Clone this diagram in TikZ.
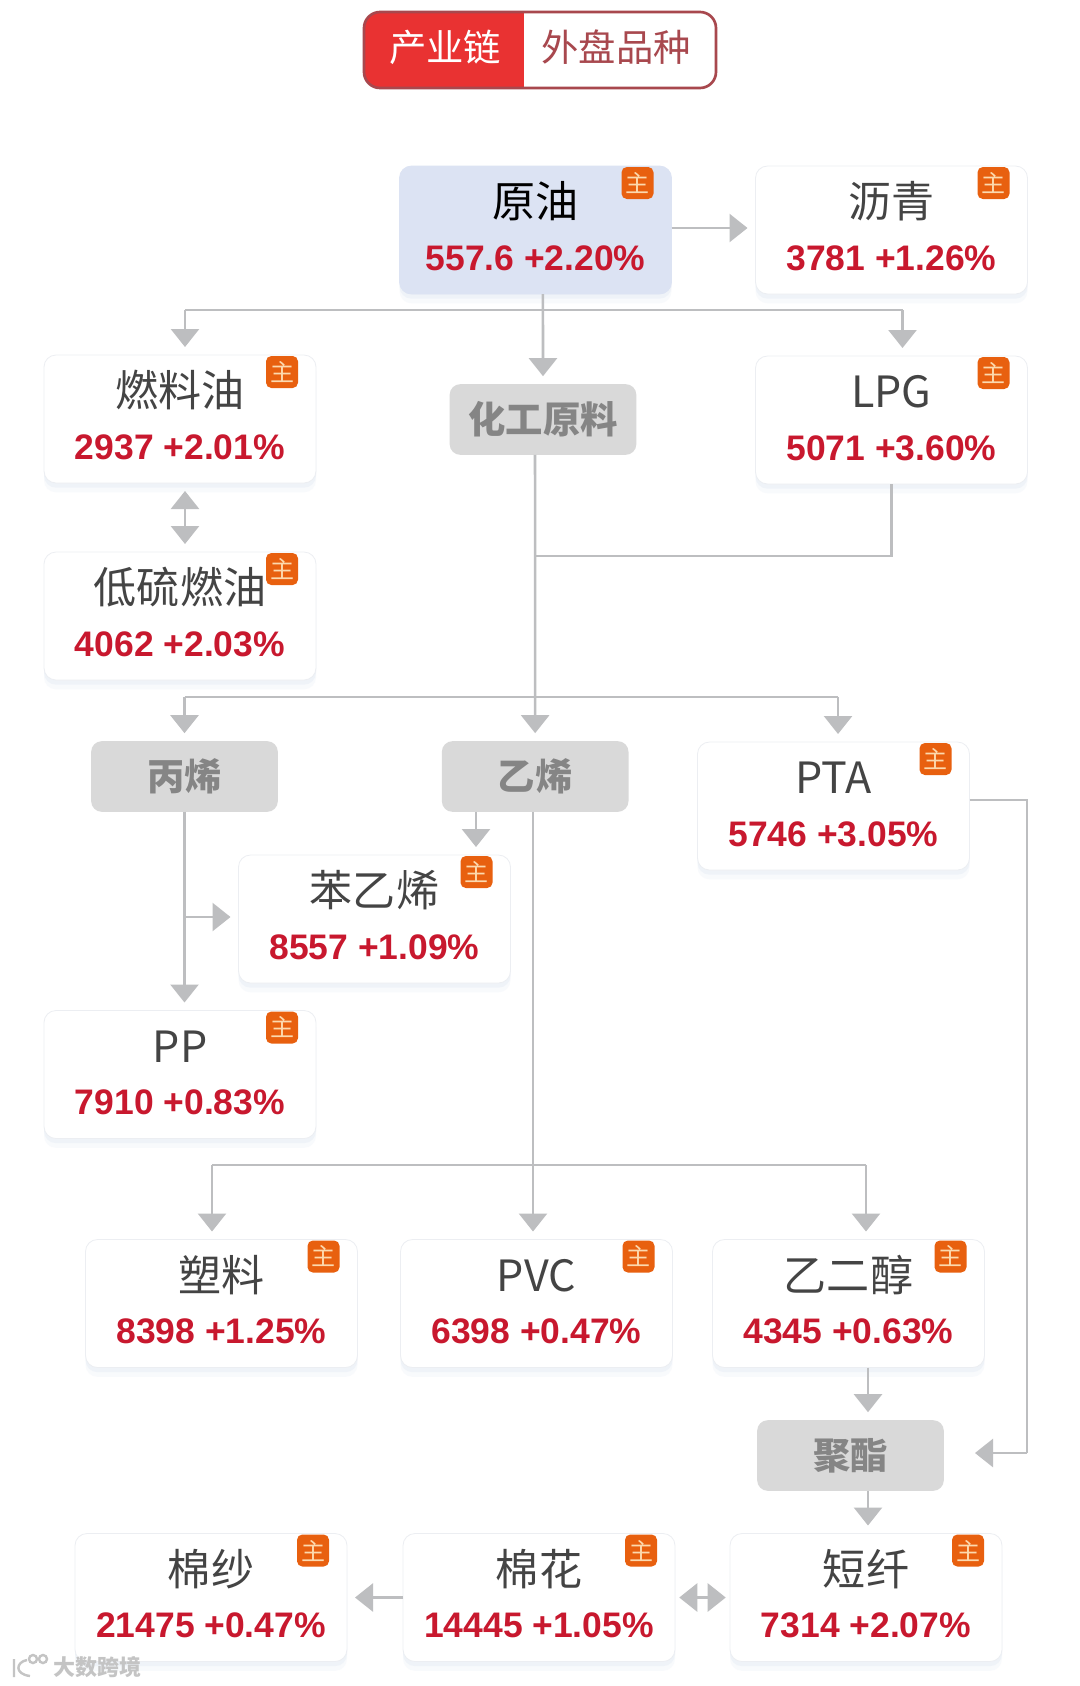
\documentclass[tikz,border=0pt]{standalone}
\usepackage{fontspec}
\usepackage{xcolor}
\usetikzlibrary{arrows.meta,positioning,shadows}
\newfontfamily\cjkfont{Noto Sans CJK SC}
\newfontfamily\figfont{Liberation Sans}
\definecolor{linkgray}{HTML}{BDBEC0}
\definecolor{titlegray}{HTML}{444444}
\definecolor{valuered}{HTML}{C8182E}
\definecolor{tabred}{HTML}{E93232}
\definecolor{tabrose}{HTML}{A8484E}
\definecolor{tintblue}{HTML}{DCE3F3}
\definecolor{boxgray}{HTML}{D9D9D9}
\definecolor{boxtext}{HTML}{858585}
\definecolor{tagorange}{HTML}{E8600F}
\definecolor{tagtext}{HTML}{FCD9AE}
\definecolor{cardline}{HTML}{ECEEF2}
\definecolor{shadowblue}{HTML}{DDE4F2}
\definecolor{markgray}{HTML}{C4C4C4}
\newcommand{\cardtext}[2]{{\cjkfont\fontsize{32.3}{36}\selectfont\rule[-5pt]{0pt}{34pt}#1}\\[14pt]{\figfont\bfseries\fontsize{26.6}{30}\selectfont\color{valuered}#2\rule[-8pt]{0pt}{27.5pt}}}
\tikzset{
  card/.style={draw=cardline,line width=0.6pt,rounded corners=9pt,fill=white,outer sep=0pt,inner sep=0pt,
    minimum width=204pt,minimum height=96pt,align=center,text=titlegray,
    drop shadow={shadow xshift=0pt,shadow yshift=-7pt,fill=shadowblue,opacity=0.18},
    drop shadow={shadow xshift=0pt,shadow yshift=-3.5pt,fill=shadowblue,opacity=0.3}},
  grouphead/.style={rounded corners=8pt,fill=boxgray,outer sep=0pt,minimum width=140pt,minimum height=53pt,
    font=\cjkfont\bfseries\fontsize{28}{32}\selectfont,text=boxtext},
  tagnode/.style={rounded corners=4pt,fill=tagorange,minimum size=24pt,inner sep=0pt,outer sep=0pt,
    font=\cjkfont\fontsize{18}{20}\selectfont,text=tagtext,anchor=north east},
  tabtext/.style={font=\cjkfont\fontsize{28}{32}\selectfont,inner sep=0pt},
  linkline/.style={draw=linkgray,line width=1.9pt},
  linkarrow/.style={linkline,-{Triangle[length=13.5pt,width=21pt]},shorten >=6pt},
  linkboth/.style={linkline,{Triangle[length=13.5pt,width=21pt]}-{Triangle[length=13.5pt,width=21pt]},shorten >=6pt,shorten <=6pt},
}
\begin{document}
\begin{tikzpicture}[x=0.75pt,y=-0.75pt]
    \path[fill=white,use as bounding box] (0,0) rectangle (1080,1686);
    % tabs
    \node[draw=tabrose,line width=2pt,rounded corners=12pt,minimum width=264pt,minimum height=57pt,outer sep=0pt,
      path picture={\fill[tabred,sharp corners] (path picture bounding box.north west) rectangle ([xshift=120pt]path picture bounding box.south west);}] (tabs) at (540,50) {};
    \node[tabtext,text=white] (tabchain) at (445,47) {产业链};
    \node[tabtext,text=tabrose] (tabforeign) at (616,47) {外盘品种};
    % cards
    \node[card,fill=tintblue,draw=tintblue,text=black] (crude) at (535.5,230) {\cardtext{原油}{557.6 +2.20\%}};
    \node[card,right=63pt of crude] (asphalt) {\cardtext{沥青}{3781 +1.26\%}};
    \node[card,below=46.5pt of asphalt] (lpg) {\cardtext{LPG}{5071 +3.60\%}};
    \node[card] (fuel) at (180,419) {\cardtext{燃料油}{2937 +2.01\%}};
    \node[card,below=51.75pt of fuel] (lowsulfur) {\cardtext{低硫燃油}{4062 +2.03\%}};
    \node[grouphead] (chem) at (543,419.5) {化工原料};
    \node[grouphead] (propylene) at (184.5,776.5) {丙烯};
    \node[grouphead,right=123pt of propylene] (ethylene) {乙烯};
    \node[card] (pta) at (833.5,806) {\cardtext{PTA}{5746 +3.05\%}};
    \node[card] (styrene) at (374.5,919) {\cardtext{苯乙烯}{8557 +1.09\%}};
    \node[card] (pp) at (180,1074.5) {\cardtext{PP}{7910 +0.83\%}};
    \node[card] (plastic) at (221.5,1303.5) {\cardtext{塑料}{8398 +1.25\%}};
    \node[card,right=32.25pt of plastic] (pvc) {\cardtext{PVC}{6398 +0.47\%}};
    \node[card,right=30pt of pvc] (glycol) {\cardtext{乙二醇}{4345 +0.63\%}};
    \node[grouphead] (polyester) at (850.5,1455.5) {聚酯};
    \node[card] (yarn) at (211,1597.5) {\cardtext{棉纱}{21475 +0.47\%}};
    \node[card,right=42pt of yarn] (cotton) {\cardtext{棉花}{14445 +1.05\%}};
    \node[card,right=41.25pt of cotton] (staple) {\cardtext{短纤}{7314 +2.07\%}};
    \foreach \n in {crude,asphalt,lpg,fuel,lowsulfur,pta,styrene,pp,plastic,pvc,glycol,yarn,cotton,staple}
      \node[tagnode] (\n tag) at ([shift={(-18,1)}]\n.north east) {主};
    % bus points
    \coordinate (busa) at (543,310);
    \coordinate (busb) at (535,697);
    \coordinate (busc) at (533,1165);
    \coordinate (lpgjoin) at (535,556);
    % links
    \draw[linkarrow] ([yshift=1.5pt]crude.east) -- ([yshift=1.5pt]asphalt.west);
    \draw[linkarrow] ([xshift=5.6pt]crude.south) -- (chem.north);
    \draw[linkline] ([xshift=3.75pt]fuel.north |- busa) -- ([xshift=8.25pt]lpg.north |- busa);
    \draw[linkarrow] ([xshift=3.75pt]fuel.north |- busa) -- ([xshift=3.75pt]fuel.north);
    \draw[linkarrow] ([xshift=8.25pt]lpg.north |- busa) -- ([xshift=8.25pt]lpg.north);
    \draw[linkboth] ([xshift=3.75pt]fuel.south) -- ([xshift=3.75pt]lowsulfur.north);
    \draw[linkline] (lpg.south) |- (lpgjoin);
    \draw[linkarrow] ([xshift=-6pt]chem.south) -- (ethylene.north);
    \draw[linkline] (propylene.north |- busb) -- ([xshift=3.4pt]pta.north |- busb);
    \draw[linkarrow] (propylene.north |- busb) -- (propylene.north);
    \draw[linkarrow] ([xshift=3.4pt]pta.north |- busb) -- ([xshift=3.4pt]pta.north);
    \draw[linkarrow] (propylene.south) -- (propylene.south |- pp.north);
    \coordinate (branch) at (184.5,917);
    \draw[linkarrow] (branch) -- (styrene.west |- branch);
    \coordinate (styin) at (476,830);
    \draw[linkarrow] (styin |- ethylene.south) -- (styin |- styrene.north);
    \draw[linkarrow] (busc |- ethylene.south) -- (busc |- pvc.north);
    \coordinate (busleft) at (212,1165);
    \coordinate (busright) at (866,1165);
    \draw[linkline] (busleft) -- (busright);
    \draw[linkarrow] (busleft) -- (busleft |- plastic.north);
    \draw[linkarrow] (busright) -- (busright |- glycol.north);
    \coordinate (polydown) at (868,1400);
    \draw[linkarrow] (polydown |- glycol.south) -- (polydown |- polyester.north);
    \draw[linkarrow] (polydown |- polyester.south) -- (polydown |- staple.north);
    \coordinate (ptaright) at (1027,1453);
    \coordinate (polyin) at (975,1453);
    \draw[linkline] ([yshift=4.5pt]pta.east) -| (ptaright);
    \draw[linkline,-{Triangle[length=13.5pt,width=21pt]}] (ptaright) -- (polyin);
    \draw[linkarrow] (cotton.west) -- (yarn.east);
    \draw[linkboth,shorten >=3.2pt,shorten <=3.2pt] (cotton.east) -- (staple.west);
    % watermark
    \node[font=\cjkfont\bfseries\fontsize{16.5}{20}\selectfont,text=markgray,inner sep=0pt] (mark) at (97,1667) {大数跨境};
    \draw[markgray,line width=1.8pt] (14,1659) -- (14,1677) (27,1660) .. controls (16,1662) and (14,1674) .. (30,1676) (33,1659) circle (4) (43,1659) circle (4);
\end{tikzpicture}
\end{document}
